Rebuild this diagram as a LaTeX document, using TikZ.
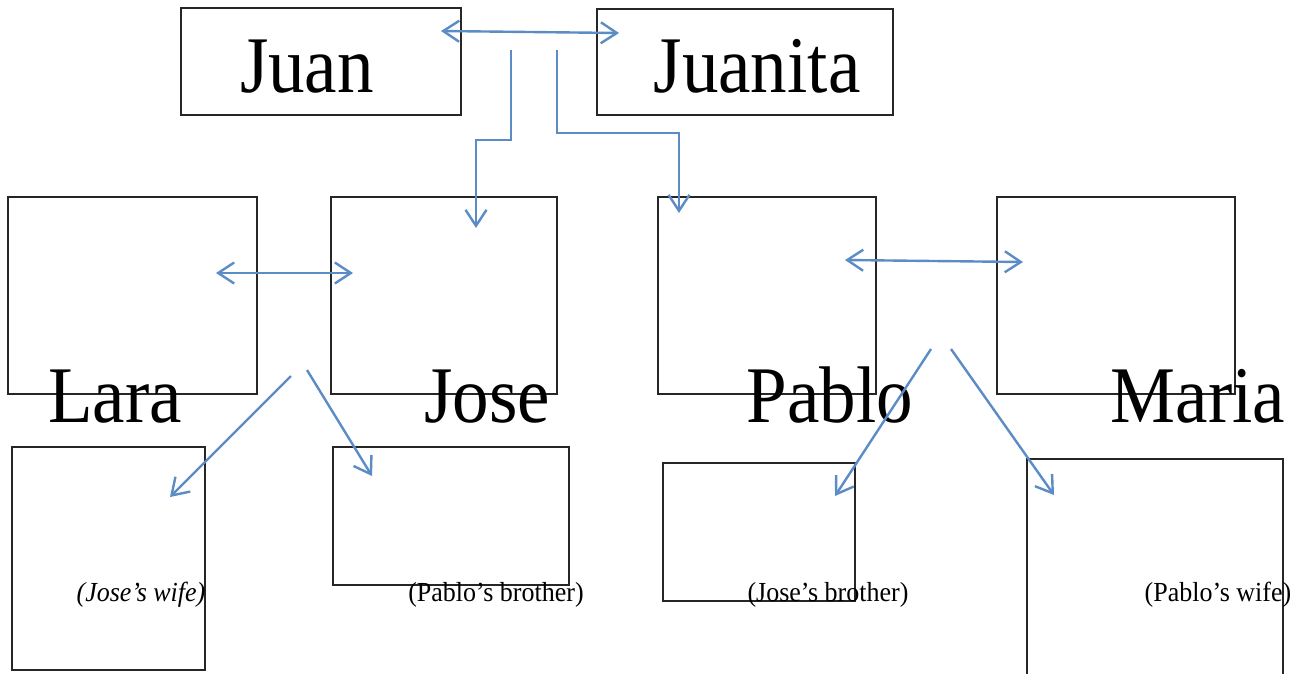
\documentclass[tikz,border=0pt]{standalone}
\usepackage{fontspec}
\setmainfont{Liberation Serif}
\usetikzlibrary{arrows.meta}
\definecolor{linkblue}{RGB}{92,140,198}
\definecolor{boxline}{RGB}{38,38,38}
\newcommand{\tallname}[1]{\scalebox{1}[1.1]{#1}}
\newcommand{\tallnote}[1]{\scalebox{1}[1.06]{#1}}
\begin{document}
\begin{tikzpicture}[x=1pt,y=-1pt,
  box/.style={draw=boxline, line width=1.6pt, inner sep=0pt},
  bigname/.style={font=\fontsize{73}{80}\selectfont, anchor=base, inner sep=0pt},
  note/.style={font=\fontsize{26}{30}\selectfont, anchor=base, inner sep=0pt},
  barb/.tip={Straight Barb[length=16pt,width=21pt,line width=2.4pt]},
  link/.style={draw=linkblue, line width=2.4pt, -barb},
  tie/.style={draw=linkblue, line width=2.4pt, barb-barb}]
\useasboundingbox (0,0) rectangle (1301,673);
\clip (0,0) rectangle (1301,673);

% frames
\node[box, minimum width=280pt, minimum height=107pt] (juanbox)    at (321,61.5) {};
\node[box, minimum width=296pt, minimum height=106pt] (juanitabox) at (745,62) {};
\node[box, minimum width=249pt, minimum height=197pt] (larabox)    at (132.5,295.5) {};
\node[box, minimum width=226pt, minimum height=197pt] (josebox)    at (444,295.5) {};
\node[box, minimum width=218pt, minimum height=197pt] (pablobox)   at (767,295.5) {};
\node[box, minimum width=238pt, minimum height=197pt] (mariabox)   at (1116,295.5) {};
\node[box, minimum width=193pt, minimum height=223pt] (wifebox)    at (108.5,558.5) {};
\node[box, minimum width=236pt, minimum height=138pt] (pbrotherbox) at (451,516) {};
\node[box, minimum width=192pt, minimum height=138pt] (jbrotherbox) at (759,532) {};
\node[box, minimum width=256pt, minimum height=240pt] (pwifebox)   at (1155,579) {};

% names
\node[bigname] (juan)    at (307,92)  {\tallname{Juan}};
\node[bigname] (juanita) at (757,92)  {\tallname{Juanita}};
\node[bigname] (lara)    at (115,422) {\tallname{Lara}};
\node[bigname] (jose)    at (487,422) {\tallname{Jose}};
\node[bigname] (pablo)   at (830,422) {\tallname{Pablo}};
\node[bigname] (maria)   at (1198,422) {\tallname{Maria}};

% relations
\node[note] (josewife)     at (141,601) {\tallnote{\itshape (Jose’s wife)}};
\node[note] (pablobrother) at (496,601) {\tallnote{(Pablo’s brother)}};
\node[note] (josebrother)  at (828,601) {\tallnote{(Jose’s brother)}};
\node[note] (pablowife)    at (1218,601) {\tallnote{(Pablo’s wife)}};

% connector ends
\coordinate (m1) at (441,31);   \coordinate (m2) at (619,33);
\coordinate (d1) at (511,50);   \coordinate (d1t) at (476,228);
\coordinate (d2) at (557,50);   \coordinate (d2t) at (679,213);
\coordinate (m3) at (216,273);  \coordinate (m4) at (353,273);
\coordinate (m5) at (845,260);  \coordinate (m6) at (1023,262);
\coordinate (c1) at (291,376);  \coordinate (c1t) at (170,497);
\coordinate (c2) at (307,370);  \coordinate (c2t) at (372,476);
\coordinate (c3) at (931,349);  \coordinate (c3t) at (835,496);
\coordinate (c4) at (951,349);  \coordinate (c4t) at (1054,495);

% connectors
\draw[tie] (m1) -- (m2);
\draw[link] (d1) -- (511,140) -- (476,140) -- (d1t);
\draw[link] (d2) -- (557,133) -- (679,133) -- (d2t);
\draw[tie] (m3) -- (m4);
\draw[tie] (m5) -- (m6);
\draw[link] (c1) -- (c1t);
\draw[link] (c2) -- (c2t);
\draw[link] (c3) -- (c3t);
\draw[link] (c4) -- (c4t);
\end{tikzpicture}
\end{document}
